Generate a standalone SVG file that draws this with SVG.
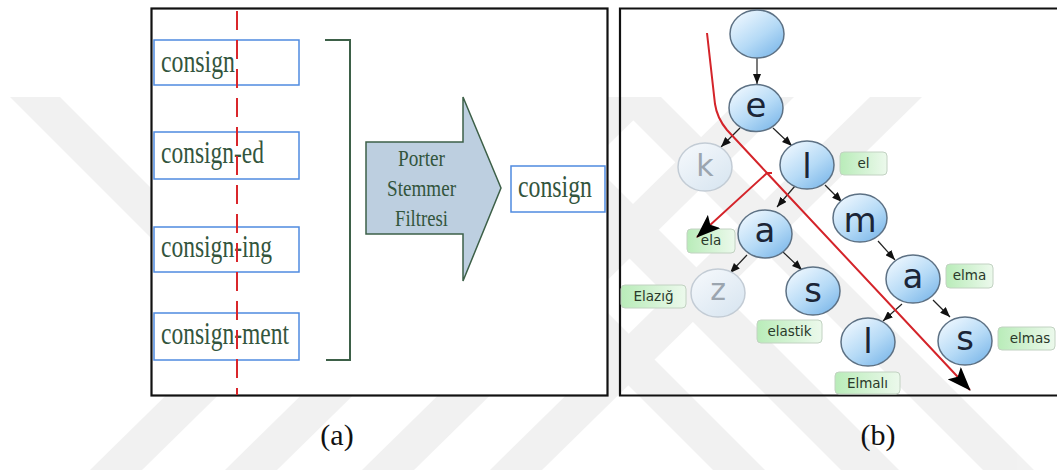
<svg xmlns="http://www.w3.org/2000/svg" width="1057" height="471" viewBox="0 0 1057 471">
  <defs>
    <style>
      .frame { fill: none; stroke: #111; stroke-width: 2.2; }
      .word { fill: #fff; stroke: #4f8be0; stroke-width: 1.5; }
      .serif { font-family: "Liberation Serif", "Times New Roman", serif; fill: #33553d; }
      .cap { font-family: "Liberation Serif", "Times New Roman", serif; fill: #111; font-size: 30px; text-anchor: middle; }
      .node { fill: url(#nodeFill); stroke: #5d7184; stroke-width: 1.5; }
      .ghost { fill: url(#ghostFill); stroke: #c3ccd5; stroke-width: 1.5; }
      .letter { font-family: "DejaVu Sans", "Noto Sans", sans-serif; font-size: 34px; fill: #1b2537; text-anchor: middle; }
      .gletter { font-family: "DejaVu Sans", "Noto Sans", sans-serif; font-size: 30px; fill: #9ba5af; text-anchor: middle; }
      .tag { fill: url(#tagFill); stroke: #c2d2c2; stroke-width: 1; }
      .tagtext { font-family: "DejaVu Sans", "Noto Sans", sans-serif; font-size: 13.5px; fill: #2a392a; text-anchor: middle; }
      .edge { stroke: #222; stroke-width: 1.2; fill: none; marker-end: url(#tip); }
      .path { stroke: #d4242a; stroke-width: 2; fill: none; }
    </style>
    <linearGradient id="nodeFill" x1="0.15" y1="0.1" x2="0.85" y2="0.95">
      <stop offset="0" stop-color="#eaf5fe"/>
      <stop offset="0.55" stop-color="#b5daf6"/>
      <stop offset="1" stop-color="#7fb9ea"/>
    </linearGradient>
    <linearGradient id="ghostFill" x1="0.15" y1="0.1" x2="0.85" y2="0.95">
      <stop offset="0" stop-color="#f3f7fb"/>
      <stop offset="1" stop-color="#d9e6f1"/>
    </linearGradient>
    <linearGradient id="tagFill" x1="0" y1="0" x2="1" y2="0">
      <stop offset="0" stop-color="#b9ecb9"/>
      <stop offset="1" stop-color="#ecf9ec"/>
    </linearGradient>
    <marker id="tip" viewBox="0 0 10 8" refX="10" refY="4" markerWidth="10" markerHeight="8" markerUnits="userSpaceOnUse" orient="auto">
      <path d="M0,0 L10,4 L0,8 z" fill="#111"/>
    </marker>
    <marker id="bigtip" viewBox="0 0 24 18" refX="23" refY="9" markerWidth="24" markerHeight="18" markerUnits="userSpaceOnUse" orient="auto">
      <path d="M0,0 L24,9 L0,18 L5,9 z" fill="#000"/>
    </marker>
  </defs>

  <rect x="0" y="0" width="1057" height="471" fill="#fff"/>

  <!-- faint background stripes -->
  <g id="backdrop" fill="#000" opacity="0.05">
    <polygon points="90,470 142,470 522,97 470,97"/>
    <polygon points="225,470 277,470 657,97 605,97"/>
    <polygon points="362,470 414,470 794,97 742,97"/>
    <polygon points="490,470 542,470 922,97 870,97"/>
    <polygon points="10,97 60,97 263,300 213,300"/>
    <polygon points="340,97 392,97 765,470 713,470"/>
    <polygon points="468,97 526,97 899,470 841,470"/>
    <polygon points="610,97 661,97 1034,470 983,470"/>
  </g>

  <!-- (a) stemming panel -->
  <g id="panel-a">
    <rect x="151.5" y="8.5" width="456" height="387" fill="#fff" stroke="#111" stroke-width="2.2"/>
  </g>

  <g id="word-consign">
    <rect class="word" x="154" y="40" width="145" height="45"/>
    <text class="serif" x="161" y="72" font-size="31" textLength="74" lengthAdjust="spacingAndGlyphs">consign</text>
  </g>
  <g id="word-consigned">
    <rect class="word" x="154" y="132" width="145" height="47"/>
    <text class="serif" x="161" y="163" font-size="31" textLength="103" lengthAdjust="spacingAndGlyphs">consign-ed</text>
  </g>
  <g id="word-consigning">
    <rect class="word" x="154" y="227" width="145" height="45"/>
    <text class="serif" x="161" y="257" font-size="31" textLength="111" lengthAdjust="spacingAndGlyphs">consign-ing</text>
  </g>
  <g id="word-consignment">
    <rect class="word" x="154" y="313" width="145" height="47"/>
    <text class="serif" x="161" y="343.5" font-size="31" textLength="128" lengthAdjust="spacingAndGlyphs">consign-ment</text>
  </g>

  <g id="stem-split">
    <line x1="237" y1="11" x2="237" y2="395" stroke="#d9262b" stroke-width="2" stroke-dasharray="19 10"/>
  </g>

  <g id="group-bracket">
    <path d="M325,40 L350,40 L350,360 L326,360" fill="none" stroke="#3d6048" stroke-width="2"/>
  </g>

  <g id="porter-filter">
    <polygon points="366,142 463,142 463,97 501,188 463,281 463,234 366,234" fill="#bdcfe0" stroke="#3d6048" stroke-width="1.5"/>
    <text class="serif" x="398" y="166" font-size="24" textLength="47" lengthAdjust="spacingAndGlyphs">Porter</text>
    <text class="serif" x="387" y="196" font-size="24" textLength="69" lengthAdjust="spacingAndGlyphs">Stemmer</text>
    <text class="serif" x="395" y="226" font-size="24" textLength="53" lengthAdjust="spacingAndGlyphs">Filtresi</text>
  </g>

  <g id="word-stem">
    <rect class="word" x="511" y="166" width="94" height="46"/>
    <text class="serif" x="518" y="197" font-size="31" textLength="74" lengthAdjust="spacingAndGlyphs">consign</text>
  </g>

  <text class="cap" x="337" y="445">(a)</text>

  <!-- (b) trie panel -->
  <g id="panel-b">
    <path class="frame" d="M1060,8.5 L620,8.5 L620,395.5 L1060,395.5"/>
  </g>

  <g id="connectors">
    <line class="edge" x1="757" y1="58" x2="757" y2="84"/>
    <line class="edge" x1="740" y1="128" x2="721" y2="147"/>
    <line class="edge" x1="773" y1="128" x2="792" y2="146"/>
    <line class="edge" x1="795" y1="186" x2="777" y2="207"/>
    <line class="edge" x1="825" y1="185" x2="842" y2="202"/>
    <line class="edge" x1="747" y1="255" x2="730" y2="273"/>
    <line class="edge" x1="783" y1="252" x2="802" y2="270"/>
    <line class="edge" x1="878" y1="241" x2="895" y2="260"/>
    <line class="edge" x1="902" y1="304" x2="883" y2="321"/>
    <line class="edge" x1="933" y1="300" x2="950" y2="317"/>
  </g>

  <g id="node-root"><ellipse class="node" cx="757" cy="34" rx="27" ry="24"/></g>
  <g id="node-e"><ellipse class="node" cx="756" cy="108" rx="27" ry="23.5"/><text class="letter" x="756" y="117">e</text></g>
  <g id="node-k"><ellipse class="ghost" cx="705" cy="167" rx="27" ry="24"/><text class="gletter" x="705" y="176">k</text></g>
  <g id="node-l"><ellipse class="node" cx="807" cy="165" rx="27" ry="24"/><text class="letter" x="807" y="178">l</text></g>
  <g id="node-a1"><ellipse class="node" cx="765" cy="234" rx="27" ry="24"/><text class="letter" x="765" y="242">a</text></g>
  <g id="node-m"><ellipse class="node" cx="860" cy="218" rx="27" ry="24"/><text class="letter" x="860" y="232">m</text></g>
  <g id="node-z"><ellipse class="ghost" cx="718" cy="293" rx="27" ry="24"/><text class="gletter" x="718" y="300">z</text></g>
  <g id="node-s1"><ellipse class="node" cx="813" cy="291" rx="27" ry="24"/><text class="letter" x="813" y="302">s</text></g>
  <g id="node-a2"><ellipse class="node" cx="913" cy="279" rx="27" ry="24"/><text class="letter" x="913" y="288">a</text></g>
  <g id="node-l2"><ellipse class="node" cx="868" cy="342" rx="27" ry="24"/><text class="letter" x="868" y="353">l</text></g>
  <g id="node-s2"><ellipse class="node" cx="965" cy="341" rx="27" ry="24"/><text class="letter" x="965" y="350">s</text></g>

  <g id="tag-el"><rect class="tag" x="840" y="152" width="47" height="23" rx="4"/><text class="tagtext" x="863.5" y="168">el</text></g>
  <g id="tag-ela"><rect class="tag" x="687" y="229" width="48" height="24" rx="4"/><text class="tagtext" x="711" y="245">ela</text></g>
  <g id="tag-elazig"><rect class="tag" x="621" y="285" width="65" height="23" rx="4"/><text class="tagtext" x="653.5" y="301">Elazığ</text></g>
  <g id="tag-elastik"><rect class="tag" x="757" y="320" width="65" height="23" rx="4"/><text class="tagtext" x="789.5" y="336">elastik</text></g>
  <g id="tag-elma"><rect class="tag" x="946" y="264" width="47" height="24" rx="4"/><text class="tagtext" x="969.5" y="280">elma</text></g>
  <g id="tag-elmas"><rect class="tag" x="998" y="327" width="57" height="23" rx="4"/><text class="tagtext" x="1030" y="343">elmas</text></g>
  <g id="tag-elmali"><rect class="tag" x="835" y="372" width="65" height="22" rx="4"/><text class="tagtext" x="867.5" y="388">Elmalı</text></g>

  <!-- search paths -->
  <g id="search-paths">
    <path class="path" d="M707,33 L715,104 Q717,118 727,130 L767,173 L970,390" marker-end="url(#bigtip)"/>
    <path class="path" d="M772,173 L767,173 L697,237" marker-end="url(#bigtip)"/>
  </g>

  <text class="cap" x="878" y="445">(b)</text>
</svg>
